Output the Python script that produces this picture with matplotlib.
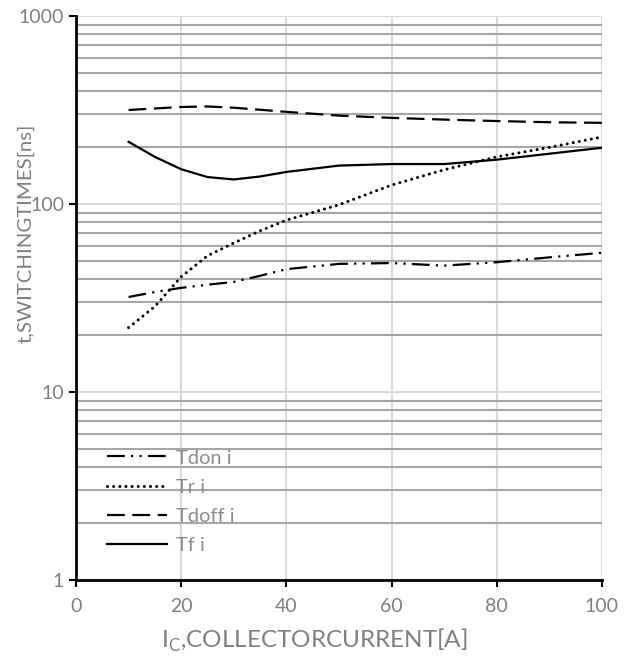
import numpy as np
import matplotlib.pyplot as plt
from matplotlib.ticker import LogLocator, NullFormatter, FixedLocator

plt.rcParams["font.family"] = ["Lato", "DejaVu Sans"]

# values
current = [10, 15, 20, 25, 30, 35, 40, 50, 60, 70, 80, 90, 100]
tdon = [32, 34, 35.8, 37.2, 38.5, 41.5, 45, 48, 48.5, 47, 49, 52, 55]
tr = [22, 28.5, 41, 53, 62, 72, 82, 99, 126, 152, 178, 200, 227]
tdoff = [316, 322, 328, 330, 325, 317, 309, 295, 287, 281, 276, 272, 270]
tf = [214, 178, 153, 139, 135, 140, 148, 160, 163, 163, 172, 185, 199]

x_ticks = [0, 20, 40, 60, 80, 100]
y_ticks = [1, 10, 100, 1000]

grey_text = "#7f7f7f"

fig = plt.figure(figsize=(6.29, 6.64), dpi=100)
ax = fig.add_axes([0.1208, 0.1265, 0.8362, 0.8495])

ax.set_yscale("log")
ax.set_xlim(0, 100)
ax.set_ylim(1, 1000)

# grid: light major lines, darker minor lines
ax.yaxis.set_major_locator(FixedLocator(y_ticks))
ax.yaxis.set_minor_locator(LogLocator(base=10, subs=np.arange(2, 10)))
ax.yaxis.set_minor_formatter(NullFormatter())
ax.set_yticklabels(["1", "10", "100", "1000"])
ax.xaxis.set_major_locator(FixedLocator(x_ticks))

ax.grid(True, which="major", axis="both", color="#d9d9d9", linewidth=1.5)
ax.grid(True, which="minor", axis="y", color="#a6a6a6", linewidth=1.5)
ax.set_axisbelow(True)

ax.plot(current, tdon, color="black", linewidth=1.6,
        dashes=(8, 2.8, 1, 2.8, 1, 2.8), label="Tdon i")
ax.plot(current, tr, color="black", linewidth=2.2,
        linestyle=(0, (0.01, 2.0)), dash_capstyle="round", label="Tr i")
ax.plot(current, tdoff, color="black", linewidth=1.6,
        dashes=(8, 3.4), label="Tdoff i")
ax.plot(current, tf, color="black", linewidth=1.6, label="Tf i")

for side in ["top", "right"]:
    ax.spines[side].set_visible(False)
for side in ["left", "bottom"]:
    ax.spines[side].set_color("black")
    ax.spines[side].set_linewidth(2)

ax.tick_params(axis="both", which="major", direction="out", length=5,
               width=1.5, color="black", labelsize=14, labelcolor=grey_text)
ax.tick_params(axis="y", which="minor", length=0)
ax.tick_params(axis="x", pad=8)

legend = ax.legend(
    loc="lower left",
    bbox_to_anchor=(0.059, 0.046),
    borderaxespad=0,
    borderpad=0,
    frameon=False,
    fontsize=14.5,
    handlelength=3.0,
    labelspacing=0.6,
    handletextpad=0.45,
)
for text in legend.get_texts():
    text.set_color("#8c8c8c")

fig.text(0.5, 0.036, "I$_\\mathregular{C}$,COLLECTORCURRENT[A]",
         ha="center", va="center", fontsize=17.5, color=grey_text)
# the reference label runs over the "100" tick label as well
fig.text(0.041, 0.649, "t,SWITCHINGTIMES[ns]", rotation=90,
         ha="center", va="center", fontsize=14.7, color=grey_text)

fig.savefig("out.png", dpi=100)
